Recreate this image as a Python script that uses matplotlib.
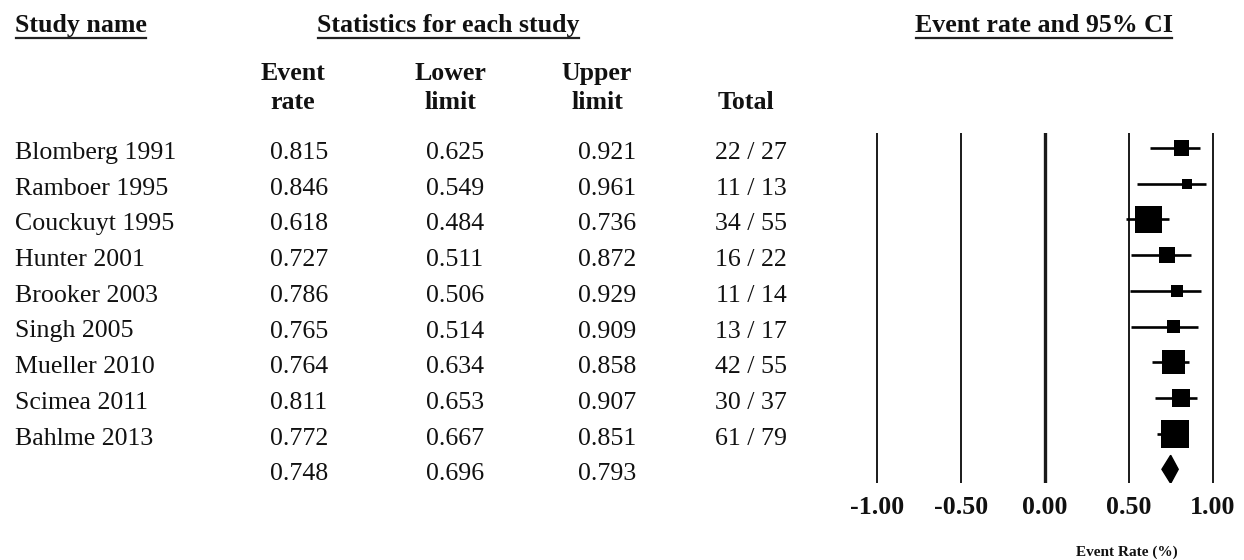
import matplotlib
matplotlib.use("Agg")
import matplotlib.pyplot as plt
from matplotlib import transforms as mtransforms
from matplotlib.lines import Line2D
import numpy as np

# ---------------- data ----------------
studies = ["Blomberg 1991", "Ramboer 1995", "Couckuyt 1995", "Hunter 2001",
           "Brooker 2003", "Singh 2005", "Mueller 2010", "Scimea 2011", "Bahlme 2013"]
event_rate = [0.815, 0.846, 0.618, 0.727, 0.786, 0.765, 0.764, 0.811, 0.772]
lower_limit = [0.625, 0.549, 0.484, 0.511, 0.506, 0.514, 0.634, 0.653, 0.667]
upper_limit = [0.921, 0.961, 0.736, 0.872, 0.929, 0.909, 0.858, 0.907, 0.851]
events = [22, 11, 34, 16, 11, 13, 42, 30, 61]
totals = [27, 13, 55, 22, 14, 17, 55, 37, 79]
summary_rate = 0.748
summary_lower = 0.696
summary_upper = 0.793
tick_values = [-1.0, -0.5, 0.0, 0.5, 1.0]
tick_labels = ["-1.00", "-0.50", "0.00", "0.50", "1.00"]

# ---------------- layout ----------------
plt.rcParams["font.family"] = ["Liberation Serif", "DejaVu Serif"]
W, H = 1244, 560
fig = plt.figure(figsize=(W / 100, H / 100), dpi=100)
fig.patch.set_facecolor("white")
TXT = "#111111"
FS = 18.6


def fx(px):
    return px / W


def fy(py):
    return 1 - py / H


row0, row_h = 148.0, 35.7
top_px, bot_px = 133.0, 483.0
ylim = ((bot_px - row0) / row_h, (top_px - row0) / row_h)
ax_h = (bot_px - top_px) / H

# forest axes
ax = fig.add_axes([fx(850), fy(bot_px), fx(394), ax_h])
ax.set_xlim(-195 / 168, 199 / 168)
ax.set_ylim(*ylim)
for s in ax.spines.values():
    s.set_visible(False)
ax.set_yticks([])
ax.set_xticks(tick_values, tick_labels)
ax.tick_params(axis="x", length=0, pad=9.5, labelsize=FS, labelcolor=TXT)
for lab in ax.get_xticklabels():
    lab.set_fontweight("bold")

for v in tick_values:
    ax.axvline(v, color="#1a1a1a", lw=2.4 if v == 0 else 1.4, zorder=1)

rows = np.arange(len(studies))
ax.hlines(rows, lower_limit, upper_limit, color="black", lw=1.9, zorder=2)
p = np.array(events) / np.array(totals)
weights = np.array(totals) * p * (1 - p)
side_px = 7.5 * np.sqrt(weights)
ax.scatter(event_rate, rows, marker="s", s=(side_px * 0.72) ** 2,
           color="black", linewidths=0, zorder=3)

ys = len(studies)
hh = 14 / row_h
ax.fill([summary_lower, summary_rate, summary_upper, summary_rate],
        [ys, ys - hh, ys, ys + hh], color="black", zorder=3)

fig.text(fx(1127), fy(552), "Event Rate (%)", ha="center", va="center",
         fontsize=11, fontweight="bold", color=TXT)

# table axes
tab = fig.add_axes([0, fy(bot_px), fx(850), ax_h])
tab.set_xlim(0, 850)
tab.set_ylim(*ylim)
tab.axis("off")
trans = mtransforms.offset_copy(tab.transData, fig=fig, y=-11, units="dots")

col_rate, col_low, col_up, col_tot = 299, 455, 607, 751
for i, name in enumerate(studies):
    tab.text(15, i, name, transform=trans, ha="left", va="baseline",
             fontsize=FS, color=TXT)
    tab.text(col_rate, i, f"{event_rate[i]:.3f}", transform=trans, ha="center",
             va="baseline", fontsize=FS, color=TXT)
    tab.text(col_low, i, f"{lower_limit[i]:.3f}", transform=trans, ha="center",
             va="baseline", fontsize=FS, color=TXT)
    tab.text(col_up, i, f"{upper_limit[i]:.3f}", transform=trans, ha="center",
             va="baseline", fontsize=FS, color=TXT)
    tab.text(col_tot, i, f"{events[i]} / {totals[i]}", transform=trans,
             ha="center", va="baseline", fontsize=FS, color=TXT)
tab.text(col_rate, ys, f"{summary_rate:.3f}", transform=trans, ha="center",
         va="baseline", fontsize=FS, color=TXT)
tab.text(col_low, ys, f"{summary_lower:.3f}", transform=trans, ha="center",
         va="baseline", fontsize=FS, color=TXT)
tab.text(col_up, ys, f"{summary_upper:.3f}", transform=trans, ha="center",
         va="baseline", fontsize=FS, color=TXT)

# headers
hdr_kw = dict(va="baseline", fontsize=FS, fontweight="bold", color=TXT)
h1 = fig.text(fx(15), fy(32), "Study name", ha="left", **hdr_kw)
h2 = fig.text(fx(448.5), fy(32), "Statistics for each study", ha="center", **hdr_kw)
h3 = fig.text(fx(1044), fy(32), "Event rate and 95% CI", ha="center", **hdr_kw)

fig.text(fx(293), fy(80), "Event", ha="center", **hdr_kw)
fig.text(fx(293), fy(109), "rate", ha="center", **hdr_kw)
fig.text(fx(450), fy(80), "Lower", ha="center", **hdr_kw)
fig.text(fx(450), fy(109), "limit", ha="center", **hdr_kw)
fig.text(fx(597), fy(80), "Upper", ha="center", **hdr_kw)
fig.text(fx(597), fy(109), "limit", ha="center", **hdr_kw)
fig.text(fx(746), fy(109), "Total", ha="center", **hdr_kw)

fig.canvas.draw()
renderer = fig.canvas.get_renderer()
for t in (h1, h2, h3):
    bb = t.get_window_extent(renderer)
    fig.add_artist(Line2D([bb.x0 / W + 0.001, bb.x1 / W - 0.001],
                          [fy(37.5), fy(37.5)], color="#222222", lw=1.6))

fig.savefig("out.png", dpi=100, facecolor="white")
